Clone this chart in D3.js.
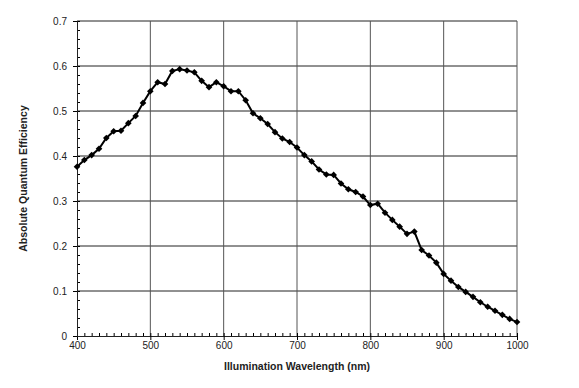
<!DOCTYPE html>
<meta charset="utf-8">
<style>
  body { margin: 0; background: #fff; font-family: "Liberation Sans", Arial, sans-serif; }
  .tick text { font-size: 10px; fill: #222; }
  .title { font-size: 10.5px; font-weight: bold; fill: #222; }
</style>
<body>
<div id="chart"></div>
<script src="https://d3js.org/d3.v7.min.js"></script>
<script>
  // wavelength in nm, every 10 nm
  const wavelengths = d3.range(400, 1001, 10);
  const efficiency = [
    0.376, 0.391, 0.402, 0.416, 0.440, 0.455, 0.456, 0.473, 0.489, 0.518,
    0.544, 0.564, 0.560, 0.589, 0.593, 0.590, 0.586, 0.567, 0.553, 0.564,
    0.555, 0.544, 0.544, 0.524, 0.495, 0.484, 0.471, 0.453, 0.439, 0.431,
    0.419, 0.402, 0.388, 0.370, 0.359, 0.358, 0.339, 0.326, 0.320, 0.310,
    0.291, 0.294, 0.274, 0.258, 0.243, 0.227, 0.232, 0.191, 0.179, 0.163,
    0.138, 0.123, 0.109, 0.098, 0.087, 0.075, 0.065, 0.056, 0.047, 0.038,
    0.031
  ];
  const xTicks = [400, 500, 600, 700, 800, 900, 1000];
  const yTicks = [0, 0.1, 0.2, 0.3, 0.4, 0.5, 0.6, 0.7];

  const data = wavelengths.map((w, i) => ({ w: w, v: efficiency[i] }));

  const width = 579, height = 388;
  const margin = { top: 21, right: 62, bottom: 52, left: 77 };

  const svg = d3.select("#chart").append("svg")
    .attr("width", width)
    .attr("height", height);

  const x = d3.scaleLinear().domain([400, 1000]).range([margin.left, width - margin.right]);
  const y = d3.scaleLinear().domain([0, 0.7]).range([height - margin.bottom, margin.top]);

  // grid
  svg.append("g")
    .selectAll("line")
    .data(yTicks.slice(1))
    .join("line")
    .attr("x1", x(400)).attr("x2", x(1000))
    .attr("y1", d => y(d)).attr("y2", d => y(d))
    .attr("stroke", "#222").attr("stroke-width", 1);

  svg.append("g")
    .selectAll("line")
    .data(xTicks.slice(1))
    .join("line")
    .attr("x1", d => x(d)).attr("x2", d => x(d))
    .attr("y1", y(0)).attr("y2", y(0.7))
    .attr("stroke", "#555").attr("stroke-width", 1);

  // minor ticks (inside)
  svg.append("g")
    .call(d3.axisTop(x).tickValues(d3.range(400, 1001, 10)).tickSize(3).tickFormat(""))
    .attr("transform", `translate(0,${y(0)})`)
    .call(g => g.select(".domain").remove());

  svg.append("g")
    .call(d3.axisRight(y).tickValues(d3.range(0, 0.701, 0.02)).tickSize(3).tickFormat(""))
    .attr("transform", `translate(${x(400)},0)`)
    .call(g => g.select(".domain").remove());

  // main axes
  svg.append("g")
    .attr("transform", `translate(0,${y(0)})`)
    .call(d3.axisBottom(x).tickValues(xTicks).tickSize(4).tickPadding(2).tickFormat(d3.format("d")))
    .call(g => g.select(".domain").attr("stroke", "#222"));

  svg.append("g")
    .attr("transform", `translate(${x(400)},0)`)
    .call(d3.axisLeft(y).tickValues(yTicks).tickSize(4).tickPadding(6).tickFormat(d => d === 0 ? "0" : d3.format(".1f")(d)))
    .call(g => g.select(".domain").attr("stroke", "#222"));

  // titles
  svg.append("text")
    .attr("class", "title")
    .attr("x", (x(400) + x(1000)) / 2)
    .attr("y", 370)
    .attr("text-anchor", "middle")
    .text("Illumination Wavelength (nm)");

  svg.append("text")
    .attr("class", "title")
    .attr("transform", `translate(27,${(y(0) + y(0.7)) / 2}) rotate(-90)`)
    .attr("text-anchor", "middle")
    .text("Absolute Quantum Efficiency");

  // line and markers
  const line = d3.line().x(d => x(d.w)).y(d => y(d.v));

  svg.append("path")
    .datum(data)
    .attr("d", line)
    .attr("fill", "none")
    .attr("stroke", "#000")
    .attr("stroke-width", 2);

  svg.append("g")
    .selectAll("path")
    .data(data)
    .join("path")
    .attr("transform", d => `translate(${x(d.w)},${y(d.v)}) rotate(45)`)
    .attr("d", d3.symbol(d3.symbolSquare, 22))
    .attr("fill", "#000");
</script>
</body>
</html>
